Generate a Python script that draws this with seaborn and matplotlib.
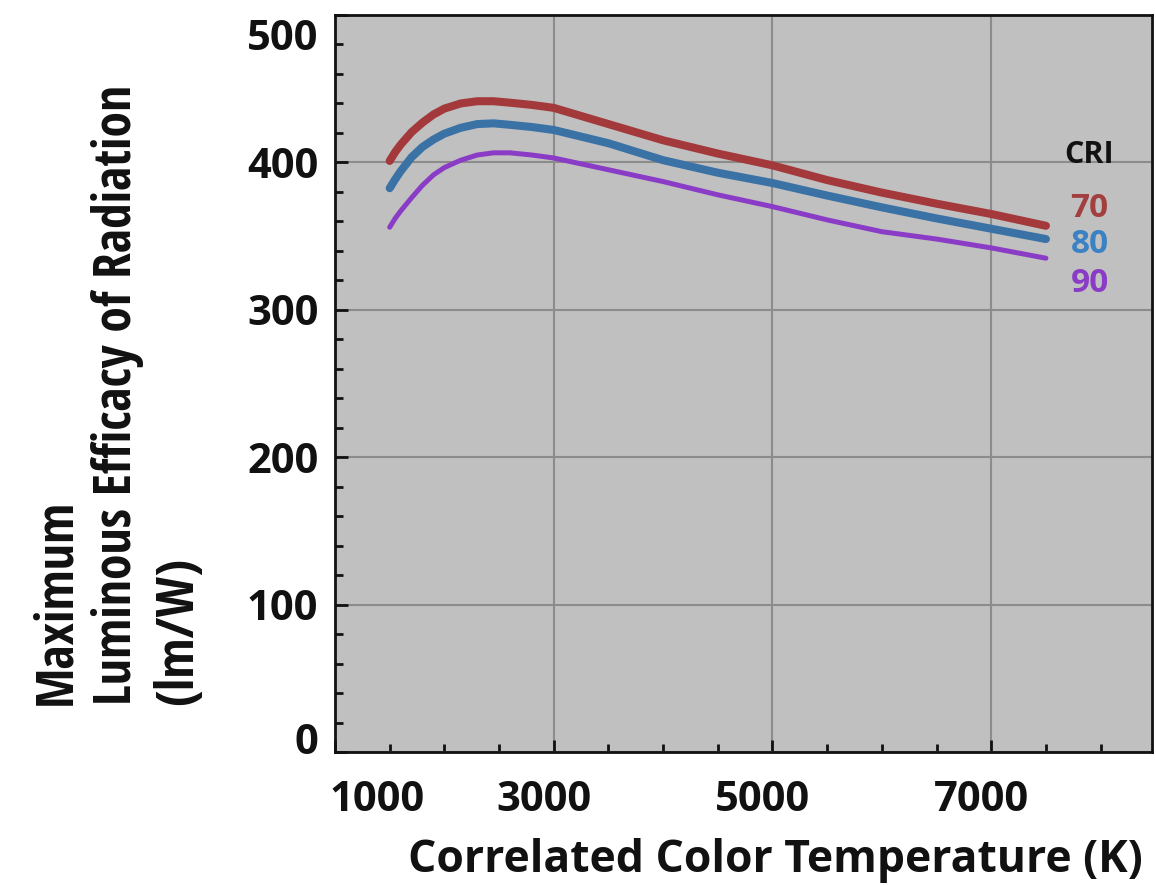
import numpy as np
import pandas as pd
import matplotlib
matplotlib.use("Agg")
import matplotlib.pyplot as plt
from matplotlib.ticker import MultipleLocator, FixedLocator
from matplotlib.transforms import ScaledTranslation
import seaborn as sns

# Correlated colour temperature (K) and maximum luminous efficacy (lm/W) per CRI
cct = [1500, 1550, 1600, 1700, 1800, 1900, 2000, 2150, 2300, 2450, 2600, 2800,
       3000, 3500, 4000, 4500, 5000, 5500, 6000, 6500, 7000, 7500]
ler_cri70 = [401, 407, 412, 420.5, 427, 432.5, 436.5, 440, 441.5, 441.5, 440.5, 439,
             437, 426, 415, 406, 398, 388, 379.5, 372, 365, 357]
ler_cri80 = [382.5, 388.5, 394, 403.5, 410.5, 415.5, 419.5, 423.5, 426, 426.5, 425.5, 424,
             422, 413, 401.5, 393, 386, 377.5, 369.5, 362, 355, 348]
ler_cri90 = [356, 362, 367, 376, 384.5, 391.5, 396.5, 401.5, 405, 406.5, 406.5, 405,
             403, 395, 387, 378, 370, 361, 353, 348, 342, 335]
cri_levels = ["70", "80", "90"]

x_ticks = [1000, 3000, 5000, 7000]
x_ticklabels = ["1000", "3000", "5000", "7000"]
y_ticks = [0, 100, 200, 300, 400, 500]
y_ticklabels = ["0", "100", "200", "300", "400", "500"]

df = pd.DataFrame({
    "CCT": cct * 3,
    "LER": ler_cri70 + ler_cri80 + ler_cri90,
    "CRI": [c for c in cri_levels for _ in cct],
})

line_colors = {"70": "#a3393b", "80": "#3a72a6", "90": "#8a3cc6"}
text_colors = {"70": "#a33f3f", "80": "#3a82c4", "90": "#8a3cc6"}
line_widths = {"70": 5.8, "80": 5.8, "90": 3.6}

sns.set_theme(style="ticks")
plt.rcParams["font.family"] = ["Open Sans", "DejaVu Sans"]

fig = plt.figure(figsize=(11.56, 8.85), dpi=100)
ax = fig.add_axes([335 / 1156, 1 - 752 / 885, (1152 - 335) / 1156, (752 - 15) / 885])
ax.set_facecolor("#c0c0c0")

for level in cri_levels:
    sns.lineplot(data=df[df["CRI"] == level], x="CCT", y="LER", ax=ax,
                 color=line_colors[level], linewidth=line_widths[level],
                 solid_capstyle="round", solid_joinstyle="round",
                 legend=False, zorder=3)

ax.set_xlim(1000, 8470)
ax.set_ylim(0, 500)

ax.xaxis.set_major_locator(FixedLocator(x_ticks))
ax.set_xticklabels(x_ticklabels)
ax.xaxis.set_minor_locator(MultipleLocator(500))
ax.yaxis.set_major_locator(FixedLocator(y_ticks))
ax.set_yticklabels(y_ticklabels)
ax.yaxis.set_minor_locator(MultipleLocator(20))

ax.grid(True, which="major", color="#8c8c8c", linewidth=1.5, zorder=1)
ax.set_axisbelow(True)

for sp in ax.spines.values():
    sp.set_visible(True)
    sp.set_color("#111111")
    sp.set_linewidth(2.0)

ax.tick_params(axis="both", which="major", direction="in", length=9, width=2.0,
               color="#111111", labelsize=30)
ax.tick_params(axis="both", which="minor", direction="in", length=6, width=2.0,
               color="#111111")
ax.tick_params(axis="x", which="major", pad=20)
ax.tick_params(axis="y", which="major", pad=12)
for lab in ax.get_xticklabels() + ax.get_yticklabels():
    lab.set_fontweight("bold")
    lab.set_color("#111111")

# nudge the outermost tick labels inward so they sit clear of the corners
def shift(label, dx_px, dy_px):
    label.set_transform(label.get_transform() +
                        ScaledTranslation(dx_px / 100, dy_px / 100, fig.dpi_scale_trans))

xl = ax.get_xticklabels()
shift(xl[0], 42, 0)
for lab in xl[1:]:
    shift(lab, -10, 0)
yl = ax.get_yticklabels()
shift(yl[0], 0, 14)
shift(yl[-1], 0, -20)

ax.set_xlabel("Correlated Color Temperature (K)", fontsize=32, fontweight="bold",
              color="#111111")
ax.xaxis.set_label_coords(0.539, -0.117)
ax.xaxis.label.set_verticalalignment("top")

narrow_families = ["Liberation Sans Narrow", "Open Sans Condensed",
                   "Roboto Condensed", "DejaVu Sans", "Noto Sans"]
ylab = ax.set_ylabel("Maximum\nLuminous Efficacy of Radiation\n(lm/W)",
                     fontsize=33, fontweight="bold", color="#111111",
                     family=narrow_families, fontstretch="condensed",
                     multialignment="left", linespacing=1.2)
ax.yaxis.set_label_coords(-0.159, 0.484)

# size the long axis title so that it spans about 620 px
renderer = fig.canvas.get_renderer()
fs = 33.0
for _ in range(4):
    h = ylab.get_window_extent(renderer).height
    fs *= 620.0 / h
    ylab.set_fontsize(fs)

# CRI legend written beside the line ends
ax.text(7890, 405, "CRI", fontsize=22, fontweight="bold", color="#111111",
        ha="center", va="center")
for level, yv in zip(cri_levels, [369, 344, 318]):
    ax.text(7900, yv, level, fontsize=24, fontweight="bold",
            color=text_colors[level], ha="center", va="center")

fig.savefig("out.png", dpi=100, facecolor="white")
